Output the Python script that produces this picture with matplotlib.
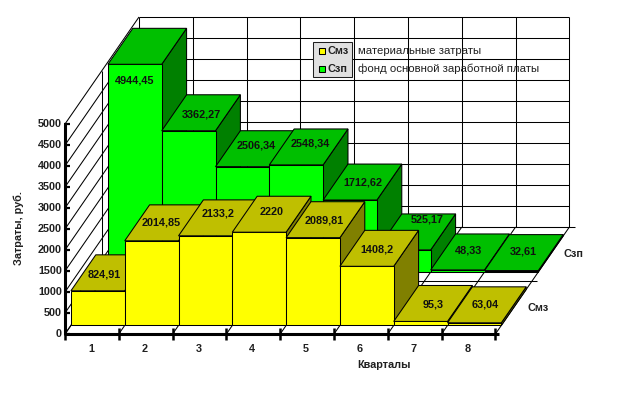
# 3D style bar chart, drawn with an oblique projection
import matplotlib
matplotlib.use('Agg')
import matplotlib.pyplot as plt
from matplotlib.patches import Polygon, Rectangle

plt.rcParams['font.family'] = ['Liberation Sans', 'DejaVu Sans']

# Data
quarters = ['1', '2', '3', '4', '5', '6', '7', '8']
smz = [824.91, 2014.85, 2133.2, 2220, 2089.81, 1408.2, 95.3, 63.04]
szp = [4944.45, 3362.27, 2506.34, 2548.34, 1712.62, 525.17, 48.33, 32.61]
smz_labels = ['824,91', '2014,85', '2133,2', '2220', '2089,81', '1408,2', '95,3', '63,04']
szp_labels = ['4944,45', '3362,27', '2506,34', '2548,34', '1712,62', '525,17', '48,33', '32,61']
y_ticks = [0, 500, 1000, 1500, 2000, 2500, 3000, 3500, 4000, 4500, 5000]

# Projection settings (pixels)
X0, Y0 = 65, 334
CAT_W = 53.8
DX, DY = 74, 107
VAL_K = 0.042
BAR_FRONT = 0.08
BAR_DEPTH = 0.336

# Label shifts in pixels, a few labels are not centred on the top face
smz_shift = [(-6, 2), (-3, 0), (0, -4), (0, -2), (-1, 1), (-2, 1), (0, 1), (-2, 0)]
szp_shift = [(-13, 34), (0, 2), (1, -3), (2, -3), (0, 0), (11, -12), (-2, -1), (-1, -1)]


def proj(cat, depth, val=0):
    return (X0 + CAT_W * cat + DX * depth, Y0 - VAL_K * val - DY * depth)


fig = plt.figure(figsize=(6.21, 3.96), dpi=100)
ax = fig.add_axes([0, 0, 1, 1])
ax.set_xlim(0, 621)
ax.set_ylim(396, 0)
ax.axis('off')

LW = 0.75


def line(p, q, lw=LW, z=1):
    ax.plot([p[0], q[0]], [p[1], q[1]], color='black', lw=lw, zorder=z,
            solid_capstyle='butt')


# Back and left walls
for v in y_ticks:
    line(proj(0, 1, v), proj(8, 1, v))
    line(proj(0, 0, v), proj(0, 1, v))
for i in range(9):
    line(proj(i, 1, 0), proj(i, 1, 5000))
    line(proj(i, 0, 0), proj(i, 1, 0))
line(proj(0, 0.5, 0), proj(0, 0.5, 5000))

# Floor lines stick out a little on the right
line(proj(0, 0.5), (proj(8, 0.5)[0] + 5, proj(8, 0.5)[1]))
line(proj(0, 1), (proj(8, 1)[0] + 6, proj(8, 1)[1]))


def draw_bar(cat, slot, val, colors, z):
    d0 = slot * 0.5 + BAR_FRONT
    d1 = d0 + BAR_DEPTH
    front = [proj(cat, d0, 0), proj(cat + 1, d0, 0), proj(cat + 1, d0, val), proj(cat, d0, val)]
    side = [proj(cat + 1, d0, 0), proj(cat + 1, d1, 0), proj(cat + 1, d1, val), proj(cat + 1, d0, val)]
    top = [proj(cat, d0, val), proj(cat + 1, d0, val), proj(cat + 1, d1, val), proj(cat, d1, val)]
    for pts, c in zip([side, front, top], colors):
        ax.add_patch(Polygon(pts, closed=True, facecolor=c, edgecolor='black', lw=LW,
                             joinstyle='miter', zorder=z))


green = ['#008000', '#00FF00', '#00BF00']
yellow = ['#808000', '#FFFF00', '#BFBF00']

# Back row first, left to right, so that nearer bars cover the farther ones
for i, v in enumerate(szp):
    draw_bar(i, 1, v, green, 2 + i * 0.01)
for i, v in enumerate(smz):
    draw_bar(i, 0, v, yellow, 3 + i * 0.01)


def bar_label(cat, slot, val, text, shift):
    x, y = proj(cat + 0.5, slot * 0.5 + BAR_FRONT + BAR_DEPTH / 2, val)
    ax.text(x + shift[0], y + shift[1], text, ha='center', va='center',
            fontsize=7.8, fontweight='bold', color='#101010', zorder=6)


for i in range(8):
    bar_label(i, 1, szp[i], szp_labels[i], szp_shift[i])
    bar_label(i, 0, smz[i], smz_labels[i], smz_shift[i])

# Thick axes with ticks
line(proj(0, 0, 0), proj(0, 0, 5000), lw=2.2, z=5)
line((X0 - 1, Y0), (proj(8, 0)[0] + 4, Y0), lw=2.2, z=5)
for v in y_ticks:
    x, y = proj(0, 0, v)
    line((x - 1.5, y), (x + 5, y), lw=1.6, z=5)
    ax.text(x - 3, y, str(v), ha='right', va='center', fontsize=7.8,
            fontweight='bold', color='#202020')
for i in range(9):
    x, y = proj(i, 0)
    line((x, y - 6), (x, y + 6), lw=1.8, z=5)
for i, q in enumerate(quarters):
    x = proj(i + 0.5, 0)[0]
    ax.text(x - 1, 349, q, ha='center', va='center', fontsize=7.8,
            fontweight='bold', color='#202020')

# Titles and series names
ax.text(384, 365, 'Кварталы', ha='center', va='center', fontsize=7.8,
        fontweight='bold', color='#202020')
ax.text(19, 228, 'Затраты, руб.', ha='center', va='center', rotation=90,
        fontsize=7.8, fontweight='bold', color='#202020')
ax.text(573, 254, 'Сзп', ha='center', va='center', fontsize=7.8,
        fontweight='bold', color='#202020')
ax.text(538, 308, 'Смз', ha='center', va='center', fontsize=7.8,
        fontweight='bold', color='#202020')

# Legend
ax.add_patch(Rectangle((312.5, 41.5), 39, 35, facecolor='#E0E0E0', edgecolor='#202020',
                       lw=LW, zorder=7))
for y, c, name, desc in [(51, '#FFFF00', 'Смз', 'материальные затраты'),
                         (68.5, '#00FF00', 'Сзп', 'фонд основной заработной платы')]:
    ax.add_patch(Rectangle((319, y - 3), 6, 6, facecolor=c, edgecolor='black', lw=LW, zorder=8))
    ax.text(328, y, name, ha='left', va='center', fontsize=7.8, fontweight='bold',
            color='#202020', zorder=8)
    ax.text(358.5, y, desc, ha='left', va='center', fontsize=8.2, color='#202020', zorder=8)

fig.savefig('out.png', dpi=100)
